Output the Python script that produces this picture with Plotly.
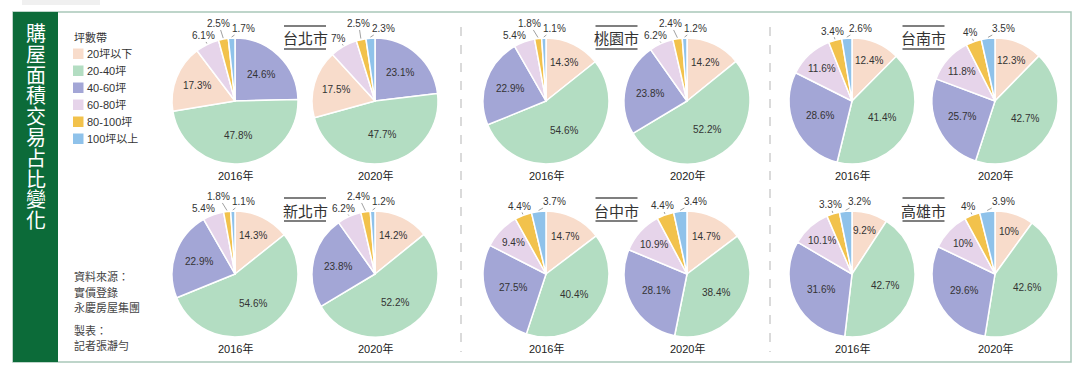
import math
import plotly.graph_objects as go

# ---------------- data ----------------
categories = ["20坪以下", "20-40坪", "40-60坪", "60-80坪", "80-100坪", "100坪以上"]
legend_title = "坪數帶"
years = ["2016年", "2020年"]
cities = ["台北市", "新北市", "桃園市", "台中市", "台南市", "高雄市"]

taipei_2016 = [17.3, 47.8, 24.6, 6.1, 2.5, 1.7]
taipei_2020 = [17.5, 47.7, 23.1, 7, 2.5, 2.3]
newtaipei_2016 = [14.3, 54.6, 22.9, 5.4, 1.8, 1.1]
newtaipei_2020 = [14.2, 52.2, 23.8, 6.2, 2.4, 1.2]
taoyuan_2016 = [14.3, 54.6, 22.9, 5.4, 1.8, 1.1]
taoyuan_2020 = [14.2, 52.2, 23.8, 6.2, 2.4, 1.2]
taichung_2016 = [14.7, 40.4, 27.5, 9.4, 4.4, 3.7]
taichung_2020 = [14.7, 38.4, 28.1, 10.9, 4.4, 3.4]
tainan_2016 = [12.4, 41.4, 28.6, 11.6, 3.4, 2.6]
tainan_2020 = [12.3, 42.7, 25.7, 11.8, 4, 3.5]
kaohsiung_2016 = [9.2, 42.7, 31.6, 10.1, 3.3, 3.2]
kaohsiung_2020 = [10, 42.6, 29.6, 10, 4, 3.9]

city_values = {
    "台北市": [taipei_2016, taipei_2020],
    "新北市": [newtaipei_2016, newtaipei_2020],
    "桃園市": [taoyuan_2016, taoyuan_2020],
    "台中市": [taichung_2016, taichung_2020],
    "台南市": [tainan_2016, tainan_2020],
    "高雄市": [kaohsiung_2016, kaohsiung_2020],
}
# order in which the slices are drawn clockwise from 12 o'clock
default_order = [0, 1, 2, 3, 4, 5]
slice_order = {"台北市": [2, 1, 0, 3, 4, 5]}

main_title = "購屋面積交易占比變化"
source_lines = ["資料來源：", "實價登錄", "永慶房屋集團"]
maker_lines = ["製表：", "記者張瀞勻"]

# ---------------- style / layout ----------------
W, H = 1080, 374
colors = ["#F8DCCB", "#B3DDC2", "#A3A6D6", "#E6D4EA", "#F2C24C", "#8FC2EA"]
FONT = "Liberation Sans, Arial, Noto Sans CJK TC, sans-serif"
CJK = "Noto Sans CJK TC, sans-serif"
TXT = "#333333"

R = 63
col_x = [(235, 375), (546, 687), (852, 995)]
row_y = [101, 274]
city_grid = {"台北市": (0, 0), "新北市": (0, 1), "桃園市": (1, 0),
             "台中市": (1, 1), "台南市": (2, 0), "高雄市": (2, 1)}
title_y = [38, 210]


def X(px):
    return px / W


def Y(py):
    return 1 - py / H


def text_w(s, size=10):
    w = 0
    for ch in s:
        if ch.isdigit():
            w += 0.556
        elif ch == ".":
            w += 0.278
        elif ch == "%":
            w += 0.889
        else:
            w += 0.6
    return w * size


fig = go.Figure()
annotations = []
shapes = []

# outer frame and left green bar
shapes.append(dict(type="rect", xref="paper", yref="paper", x0=X(22), x1=X(100), y0=Y(0), y1=Y(5),
                   fillcolor="rgba(0,0,0,0.06)", line=dict(width=0), layer="below"))
shapes.append(dict(type="rect", xref="paper", yref="paper", x0=X(13), x1=X(1071), y0=Y(12), y1=Y(362),
                   fillcolor="white", line=dict(color="#A9C8B9", width=1.5), layer="below"))
shapes.append(dict(type="rect", xref="paper", yref="paper", x0=X(13), x1=X(58), y0=Y(12), y1=Y(362),
                   fillcolor="#0C6B39", line=dict(width=0), layer="below"))
for sx in (461, 770):
    shapes.append(dict(type="line", xref="paper", yref="paper", x0=X(sx), x1=X(sx), y0=Y(27), y1=Y(352),
                       line=dict(color="#B5B5B5", width=1, dash="dash")))

# vertical title: one text block, glyphs at 20px on a 16px line pitch
vt = "<br>".join(f"<span style='font-size:20px'>{ch}</span>" for ch in main_title)
annotations.append(dict(x=X(35.5), y=Y(16), xref="paper", yref="paper", text=vt,
                        showarrow=False, xanchor="center", yanchor="top",
                        font=dict(family=CJK, size=16, color="white")))

# legend
annotations.append(dict(x=X(72), y=Y(37), xref="paper", yref="paper", text=legend_title, showarrow=False,
                        xanchor="left", yanchor="middle", font=dict(family=CJK, size=11, color=TXT)))
for i, (cat, col) in enumerate(zip(categories, colors)):
    yy = 54 + i * 17
    shapes.append(dict(type="rect", xref="paper", yref="paper", x0=X(73), x1=X(83.5), y0=Y(yy - 5.5),
                       y1=Y(yy + 5), fillcolor=col, line=dict(width=0)))
    annotations.append(dict(x=X(84.5), y=Y(yy), xref="paper", yref="paper", text=cat, showarrow=False,
                            xanchor="left", yanchor="middle", font=dict(family=FONT, size=11, color=TXT)))

# source notes
for i, line in enumerate(source_lines):
    annotations.append(dict(x=X(72), y=Y(276 + i * 15.5), xref="paper", yref="paper", text=line,
                            showarrow=False, xanchor="left", yanchor="middle",
                            font=dict(family=CJK, size=11, color="#444")))
for i, line in enumerate(maker_lines):
    annotations.append(dict(x=X(72), y=Y(330 + i * 15), xref="paper", yref="paper", text=line,
                            showarrow=False, xanchor="left", yanchor="middle",
                            font=dict(family=CJK, size=11, color="#444")))

# pies
for city in cities:
    ci, ri = city_grid[city]
    order = slice_order.get(city, default_order)
    cy = row_y[ri]
    mid_x = (col_x[ci][0] + col_x[ci][1]) / 2
    # city title with over/underline
    ty = title_y[ri]
    annotations.append(dict(x=X(mid_x), y=Y(ty), xref="paper", yref="paper", text=city, showarrow=False,
                            xanchor="center", yanchor="middle", font=dict(family=CJK, size=15, color=TXT)))
    for ly in (ty - 12, ty + 11):
        shapes.append(dict(type="line", xref="paper", yref="paper", x0=X(mid_x - 21), x1=X(mid_x + 21),
                           y0=Y(ly), y1=Y(ly), line=dict(color="#555", width=1.5)))

    for yi, year in enumerate(years):
        cx = col_x[ci][yi]
        vals = city_values[city][yi]
        ov = [vals[k] for k in order]
        fig.add_trace(go.Pie(
            labels=[categories[k] for k in order], values=ov,
            marker=dict(colors=[colors[k] for k in order], line=dict(color="white", width=1.5)),
            sort=False, direction="clockwise", rotation=0, textinfo="none",
            hoverinfo="label+value", showlegend=False,
            domain=dict(x=[X(cx - R), X(cx + R)], y=[Y(cy + R), Y(cy - R)]),
        ))
        annotations.append(dict(x=X(cx), y=Y(cy + 74), xref="paper", yref="paper", text=year,
                                showarrow=False, xanchor="center", yanchor="middle",
                                font=dict(family=FONT, size=11, color="#222")))
        total = sum(ov)
        cum = 0
        outside = []
        for k, v in zip(order, ov):
            frac = v / total
            mid = (cum + frac / 2) * 2 * math.pi
            cum += frac
            dx, dy = math.sin(mid), -math.cos(mid)
            label = f"{v:g}%"
            if v >= 8:
                kf = 0.55 + max(0, 0.3 - frac) * 0.8
                annotations.append(dict(x=X(cx + kf * R * dx), y=Y(cy + kf * R * dy), xref="paper",
                                        yref="paper", text=label, showarrow=False, xanchor="center",
                                        yanchor="middle", font=dict(family=FONT, size=10, color=TXT)))
            else:
                outside.append((mid, label))
        # outside labels: spread horizontally along an outer circle,
        # the middle one of three raised slightly (staggered)
        outside.sort()
        n = len(outside)
        placed = [None] * n
        nxt = None
        for j in range(n - 1, -1, -1):
            mid, label = outside[j]
            staggered = (n >= 3 and j == n - 2)
            RO = (1.25 if staggered else 1.15) * R
            bx = 1.15 * R * math.sin(mid)
            if nxt is None:
                ox = max(bx, 8)
            else:
                gap = -8 if (n >= 3 and j == n - 3) else 1.5
                sep = (text_w(label) + text_w(outside[j + 1][1])) / 2 + gap
                ox = min(bx, nxt - sep)
            nxt = ox
            oy = -math.sqrt(max(RO ** 2 - ox ** 2, 0))
            placed[j] = (ox, oy)
        for (mid, label), (ox, oy) in zip(outside, placed):
            tx, tyy = cx + (R + 1) * math.sin(mid), cy - (R + 1) * math.cos(mid)
            lx, lyy = cx + ox, cy + oy
            annotations.append(dict(x=X(tx), y=Y(tyy), xref="paper", yref="paper", text=label,
                                    showarrow=True, ax=lx - tx, ay=lyy - tyy, arrowhead=0,
                                    arrowwidth=0.8, arrowcolor="#888", standoff=0, borderpad=0,
                                    font=dict(family=FONT, size=10, color=TXT)))

fig.update_layout(
    width=W, height=H, margin=dict(l=0, r=0, t=0, b=0),
    paper_bgcolor="white", plot_bgcolor="white",
    annotations=annotations, shapes=shapes,
)
fig.write_html("out.html", config={"displayModeBar": False},
               post_script="document.body.style.margin='0';")
